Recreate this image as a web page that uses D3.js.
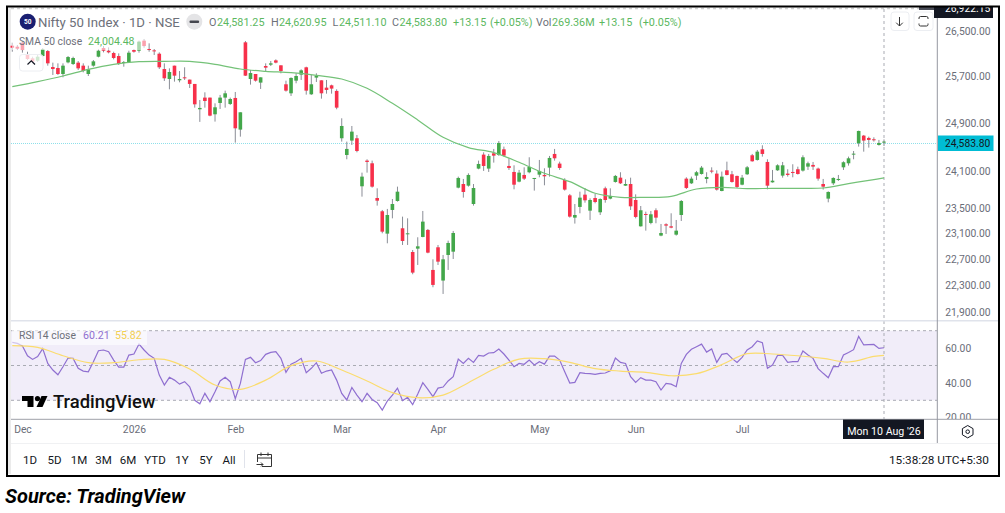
<!DOCTYPE html>
<html>
<head>
<meta charset="utf-8">
<script src="https://cdn.jsdelivr.net/npm/d3@7"></script>
<style>
html, body { margin: 0; padding: 0; background: #fff; }
svg { display: block; }
text { font-family: Roboto, sans-serif; }
.axis .domain { display: none; }
.axis text { font-family: Roboto, sans-serif; }
</style>
</head>
<body>
<svg id="chart" width="1005" height="513"></svg>
<script>
// candles, oldest first
var opens = [26237,26219,26291,26072,26013,25971,26054,26142,25860,25843,
  25738,25942,25913,25937,25884,25738,25884,26042,26195,26148,
  26107,26054,25937,25948,26160,26148,26327,26178,26154,26095,
  25825,25651,25884,25628,25680,25640,25565,25129,25329,25329,
  25044,25237,25329,25220,25323,24785,26297,25651,25738,25588,
  25878,25901,25977,25890,25559,25403,25622,25727,25855,25386,
  25675,25628,25501,25541,25444,24640,24362,24601,24640,23850,
  24269,24225,23661,23449,23096,23470,23613,23180,23091,22810,
  22862,23044,23154,22534,22883,22372,22764,22815,23828,23887,
  23860,23565,24138,24368,24138,24390,24362,24456,24181,24083,
  23925,24034,24078,23980,24039,24034,24154,24379,24220,23952,
  23704,23348,23518,23715,23459,23661,23433,23817,23651,23920,
  23990,23860,23887,23629,23211,23406,23264,23465,23065,23243,
  23211,23080,23390,23974,23898,24023,24050,23969,24105,24056,
  23774,24110,24045,24018,23876,24045,24357,24280,24456,24247,
  23914,24110,24023,24056,24083,24127,24105,24170,24198,24138,
  23887,23651,23898,23952,24159,24225,24368,24556,24684,24645,
  24623,24528,24581.25];
var closes = [26201,26184,26160,26001,25954,26042,26172,25925,25825,25738,
  25884,26036,26019,25837,25790,25820,25960,26148,26148,26119,
  26019,25913,25948,26113,26130,26309,26231,26160,26142,25855,
  25663,25773,25709,25651,25669,25565,25214,25152,25271,25021,
  25163,25329,25403,25305,24807,25078,25709,25755,25622,25680,
  25849,25925,25937,25790,25449,25669,25703,25802,25449,25559,
  25703,25403,25461,25484,25157,24846,24462,24751,24428,24007,
  24247,23844,23618,23127,23390,23565,23763,22981,23101,22493,
  22898,23285,22800,22306,22661,22697,22950,23106,23985,23758,
  24034,23822,24214,24181,24346,24351,24562,24351,24148,23876,
  24072,23974,24165,23985,24100,24012,24313,24307,24148,23796,
  23364,23390,23667,23624,23629,23597,23645,23629,23694,24018,
  23898,23887,23528,23359,23465,23390,23401,23348,23106,23222,
  23190,23143,23613,23823,23974,24078,24154,24001,24100,23796,
  24007,24034,23920,23839,23990,24159,24258,24417,24379,23860,
  23941,24192,24192,24034,24072,24050,24324,24225,24170,23974,
  23844,23758,23985,23969,24242,24307,24384,24762,24601,24612,
  24617,24562,24583.80];
var highs = [26291,26249,26309,26130,26042,26072,26190,26160,25937,25925,
  25925,26054,26042,25966,25925,25884,25983,26172,26231,26207,
  26130,26101,25966,26148,26178,26327,26357,26279,26178,26119,
  25925,25837,25884,25790,25855,25640,25565,25288,25420,25329,
  25231,25375,25449,25329,25426,25078,26321,25808,25738,25680,
  25925,25966,25995,25890,25622,25680,25750,25820,25866,25721,
  25750,25628,25634,25553,25472,24976,24584,24846,24695,24072,
  24291,24269,23817,23470,23486,23645,23844,23364,23337,22841,
  23039,23454,23169,22697,22919,22764,22986,23138,24007,23969,
  24061,23887,24269,24406,24379,24462,24595,24501,24307,24192,
  24116,24159,24324,23985,24280,24143,24346,24462,24252,23980,
  23726,23565,23763,23822,23656,23726,23656,23844,23817,24034,
  24078,23963,23990,23720,23533,23443,23454,23496,23248,23259,
  23417,23311,23629,23996,24007,24100,24181,24078,24159,24110,
  24089,24252,24100,24023,24034,24181,24379,24445,24523,24291,
  24116,24209,24247,24127,24209,24170,24357,24252,24247,24154,
  23969,23769,23996,24034,24258,24335,24428,24768,24695,24667,
  24656,24612,24620.95];
var lows = [26130,26160,26113,25983,25925,25948,26042,25884,25721,25721,
  25680,25925,25896,25808,25767,25703,25866,26030,26119,26101,
  25995,25896,25866,25937,26113,26113,26201,26130,26072,25825,
  25617,25472,25605,25593,25634,25495,25157,24915,25157,25010,
  24920,25135,25157,25203,24567,24667,25703,25553,25605,25478,
  25773,25878,25925,25750,25432,25357,25576,25634,25380,25375,
  25599,25311,25397,25397,25129,24584,24291,24528,24406,23683,
  24072,23828,23539,23101,22945,23337,23603,22919,22919,22468,
  22610,23039,22790,22271,22610,22170,22534,22702,23817,23667,
  23844,23539,24127,24100,24083,24236,24346,24335,24116,23801,
  23914,23952,24061,23780,23996,23866,24007,24269,24116,23780,
  23348,23254,23417,23586,23311,23576,23390,23586,23640,23909,
  23887,23855,23470,23337,23206,23143,23243,23259,23055,23091,
  23180,23065,23295,23806,23887,23952,24040,23898,24061,23780,
  23769,24028,23909,23822,23866,24034,24252,24269,24335,23801,
  23909,24100,23990,24007,23996,24040,24089,24116,24116,23941,
  23796,23592,23871,23936,24116,24187,24291,24501,24417,24484,
  24584,24517,24511.10];

// SMA and RSI MA were read at every fifth candle, plus the last one
var smoothIndex = [0,5,10,15,20,25,30,35,40,45,50,55,60,65,70,75,80,85,90,95,100,105,110,115,120,125,130,135,140,145,150,155,160,165,170,172];
var smaValues = [25518,25605,25703,25820,25908,25954,25960,25960,25908,25825,25785,25761,25715,25651,25489,25231,24948,24656,24484,24401,24242,24061,23925,23737,23672,23672,23688,23806,23833,23812,23817,23817,23822,23893,23958,23985];
var rsiMaValues = [61.4,60.4,55.6,51.6,51.6,53.3,53.5,48.0,38.8,36.3,41.6,49.9,52.6,47.4,41.1,34.4,31.5,33.0,40.1,47.8,53.7,53.9,51.8,48.2,46.8,46.1,44.1,45.3,50.5,56.8,56.6,55.6,54.1,52.0,55.2,55.82];

var rsiValues = [63.3,62.7,61.2,55.6,53.5,55.1,59.7,51.2,47.4,44.7,
  49.3,54.3,54.1,48.4,46.8,46.4,52.2,58.5,58.9,57.9,
  53.1,49.1,49.1,56.0,56.6,62.3,58.9,56.0,54.1,44.5,
  38.8,43.2,41.6,39.3,40.7,37.8,30.0,28.0,34.0,29.2,
  34.9,41.1,43.2,40.7,30.9,39.7,53.5,54.7,51.6,52.8,
  56.4,57.5,57.9,54.1,46.1,50.8,52.2,54.1,45.9,48.4,
  51.6,45.5,46.8,47.4,41.6,34.0,30.2,37.4,33.0,29.2,
  34.0,30.5,28.6,24.4,29.6,33.0,37.0,29.8,31.7,27.5,
  33.6,40.1,36.3,32.1,37.0,37.6,41.1,43.6,53.7,51.2,
  54.1,51.8,55.8,55.4,57.2,57.4,59.5,56.6,53.1,49.3,
  51.2,50.7,53.1,50.3,52.2,50.8,55.4,55.4,53.1,46.4,
  39.9,40.3,45.9,45.5,45.3,44.9,45.5,45.7,47.0,54.3,
  51.8,51.2,43.6,40.3,43.0,41.6,41.6,40.7,35.9,39.7,
  39.3,37.8,51.2,56.4,59.3,60.8,62.3,57.7,59.5,51.8,
  56.4,57.0,54.1,51.8,54.7,58.9,60.8,64.1,63.1,48.4,
  50.3,55.8,55.8,51.8,52.2,52.2,58.3,56.0,54.1,48.2,
  45.5,43.0,49.3,49.3,56.0,57.5,59.1,66.7,61.8,62.0,
  62.1,59.8,60.21];

var priceTicks = [26500,25700,24900,24100,23500,23100,22700,22300,21900];
var rsiTicks = [60,40,20];
var rsiLevels = [70,50,30];
var monthIndex = [2,24,44,65,84,104,123,144];
var monthLabels = ["Dec","2026","Feb","Mar","Apr","May","Jun","Jul"];
var rangeButtons = ["1D","5D","1M","3M","6M","YTD","1Y","5Y","All"];
var lastLevel = 24567; // where the dotted line sits in the picture

var GREEN = "#43a74a", RED = "#f7304a", WICK = "#8a8d96", AXIS = "#6a6d78";
var INK = "#131722", LEG = "#6d7079", UP = "#5cb85f";

var svg = d3.select("#chart");
var n = opens.length;

var x = d3.scaleLinear().domain([0, n - 1]).range([12.3, 884]);
var y = d3.scaleLog().domain([26500, 21900]).range([31, 312]);
var yRsi = d3.scaleLinear().domain([70, 30]).range([330.7, 400.3]);

svg.append("rect").attr("width", 1005).attr("height", 513).attr("fill", "#fff");

// left strip and top dashes
svg.append("rect").attr("x", 8).attr("y", 8).attr("width", 3).attr("height", 466).attr("fill", "#ebebeb");
svg.append("line").attr("x1", 11).attr("x2", 932).attr("y1", 8.5).attr("y2", 8.5)
  .attr("stroke", "#cfcfcf").attr("stroke-width", 1.5).attr("stroke-dasharray", "3,3");

// rsi pane
svg.append("rect").attr("x", 11).attr("width", 926)
  .attr("y", yRsi(70)).attr("height", yRsi(30) - yRsi(70)).attr("fill", "#f1edf9");
svg.selectAll("line.level").data(rsiLevels).enter().append("line").attr("class", "level")
  .attr("x1", 11).attr("x2", 937)
  .attr("y1", function(d){ return yRsi(d); }).attr("y2", function(d){ return yRsi(d); })
  .attr("stroke", "#a9abb3").attr("stroke-dasharray", "3,3");

// crosshair
svg.append("line").attr("x1", x(n - 1)).attr("x2", x(n - 1)).attr("y1", 9).attr("y2", 419)
  .attr("stroke", "#a9abb3").attr("stroke-dasharray", "3,3");

// last price line
svg.append("line").attr("x1", 11).attr("x2", 937)
  .attr("y1", Math.round(y(lastLevel)) + 0.5).attr("y2", Math.round(y(lastLevel)) + 0.5)
  .attr("stroke", "#8fe0ea").attr("stroke-dasharray", "1,1");

// candles
var idx = d3.range(n);
svg.selectAll("line.wick").data(idx).enter().append("line").attr("class", "wick")
  .attr("x1", function(i){ return x(i); }).attr("x2", function(i){ return x(i); })
  .attr("y1", function(i){ return y(highs[i]); }).attr("y2", function(i){ return y(lows[i]); })
  .attr("stroke", WICK).attr("stroke-width", 1);
svg.selectAll("rect.body").data(idx).enter().append("rect").attr("class", "body")
  .attr("x", function(i){ return x(i) - 1.8; })
  .attr("width", 3.6)
  .attr("y", function(i){ return y(Math.max(opens[i], closes[i])); })
  .attr("height", function(i){ return Math.max(1, Math.abs(y(opens[i]) - y(closes[i]))); })
  .attr("fill", function(i){ return closes[i] >= opens[i] ? GREEN : RED; });

// sma
var lineSma = d3.line().curve(d3.curveCatmullRom)
  .x(function(d){ return x(d); })
  .y(function(d, i){ return y(smaValues[i]); });
svg.append("path").attr("d", lineSma(smoothIndex)).attr("fill", "none")
  .attr("stroke", "#74c278").attr("stroke-width", 1.2);

// rsi lines
var lineRsi = d3.line().x(function(d, i){ return x(i); }).y(function(d){ return yRsi(d); });
svg.append("path").attr("d", lineRsi(rsiValues)).attr("fill", "none")
  .attr("stroke", "#8f6fd0").attr("stroke-width", 1.2);
var lineRsiMa = d3.line().curve(d3.curveCatmullRom)
  .x(function(d){ return x(d); })
  .y(function(d, i){ return yRsi(rsiMaValues[i]); });
svg.append("path").attr("d", lineRsiMa(smoothIndex)).attr("fill", "none")
  .attr("stroke", "#fbdc6e").attr("stroke-width", 1.2);

// pane separators
svg.append("rect").attr("x", 11).attr("y", 320).attr("width", 987).attr("height", 1.5).attr("fill", "#e0e3eb");
svg.append("rect").attr("x", 11).attr("y", 419).attr("width", 987).attr("height", 24).attr("fill", "#fff");
svg.append("line").attr("x1", 11).attr("x2", 998).attr("y1", 419.3).attr("y2", 419.3).attr("stroke", "#9ea0a8");
svg.append("rect").attr("x", 11).attr("y", 443).attr("width", 987).attr("height", 1).attr("fill", "#f0f1f3");

// right axes
svg.append("rect").attr("x", 938).attr("y", 9).attr("width", 60).attr("height", 311).attr("fill", "#fff");
svg.append("line").attr("x1", 937.3).attr("x2", 937.3).attr("y1", 8).attr("y2", 443).attr("stroke", "#9598a1");

// clip is in the axis group's own coordinates, 20.00 gets cut by the pane edge
var clip = svg.append("clipPath").attr("id", "rsiClip");
clip.append("rect").attr("x", 0).attr("y", 322).attr("width", 60).attr("height", 97);

var fmtPrice = d3.format(",.2f");
var axisPrice = d3.axisRight(y).tickValues(priceTicks).tickSize(0).tickPadding(8).tickFormat(fmtPrice);
svg.append("g").attr("class", "axis").attr("transform", "translate(937.3,0)").call(axisPrice)
  .selectAll("text").attr("fill", AXIS).attr("font-size", 10.3);

var axisRsi = d3.axisRight(yRsi).tickValues(rsiTicks).tickSize(0).tickPadding(8).tickFormat(d3.format(".2f"));
svg.append("g").attr("class", "axis").attr("clip-path", "url(#rsiClip)")
  .attr("transform", "translate(937.3,0)").call(axisRsi)
  .selectAll("text").attr("fill", AXIS).attr("font-size", 10.3);

// time axis
var axisTime = d3.axisBottom(x).tickValues(monthIndex).tickSize(0).tickPadding(0)
  .tickFormat(function(d){ return monthLabels[monthIndex.indexOf(d)]; });
svg.append("g").attr("class", "axis").attr("transform", "translate(0,426)").call(axisTime)
  .selectAll("text").attr("fill", AXIS).attr("font-size", 10.3);

// crosshair date and price tags
svg.append("rect").attr("x", 843).attr("y", 419.5).attr("width", 81).attr("height", 19.5).attr("fill", INK);
svg.append("text").attr("x", 884).attr("y", 431).attr("dy", ".35em").attr("text-anchor", "middle")
  .attr("fill", "#fff").attr("font-size", 10.6).text("Mon 10 Aug '26");

svg.append("rect").attr("x", 934).attr("y", 7).attr("width", 59).attr("height", 11).attr("fill", INK);
svg.append("rect").attr("x", 919).attr("y", 7).attr("width", 15).attr("height", 3).attr("fill", "#4a4d57");
svg.append("text").attr("x", 945).attr("y", 12).attr("fill", "#fff").attr("font-size", 10.3).text("26,922.15");
svg.append("rect").attr("x", 0).attr("y", 0).attr("width", 1005).attr("height", 6).attr("fill", "#fff");

svg.append("rect").attr("x", 938).attr("y", 135.5).attr("width", 55.5).attr("height", 15.5).attr("fill", "#00bcd4");
svg.append("text").attr("x", 945).attr("y", 143.2).attr("dy", ".35em").attr("fill", INK).attr("font-size", 10.3).text("24,583.80");

// legend backgrounds
svg.append("rect").attr("x", 12).attr("y", 34).attr("width", 134).attr("height", 16).attr("fill", "#fff").attr("opacity", 0.55);
svg.append("rect").attr("x", 12).attr("y", 328).attr("width", 135).attr("height", 17).attr("fill", "#fff").attr("opacity", 0.6);

// header
svg.append("circle").attr("cx", 27.7).attr("cy", 21.7).attr("r", 8).attr("fill", "#1a1f71");
svg.append("text").attr("x", 27.7).attr("y", 21.9).attr("dy", ".35em").attr("text-anchor", "middle")
  .attr("fill", "#fff").attr("font-size", 6.5).attr("font-weight", 700).text("50");
svg.append("text").attr("x", 38).attr("y", 22).attr("dy", ".35em").attr("fill", LEG).attr("font-size", 13.2)
  .text("Nifty 50 Index \u00b7 1D \u00b7 NSE");
svg.append("circle").attr("cx", 194.3).attr("cy", 21.7).attr("r", 8).attr("fill", "#e4e4e6");
svg.append("rect").attr("x", 189.5).attr("y", 20.4).attr("width", 9.6).attr("height", 2.6).attr("rx", 1).attr("fill", "#44464e");

var headerBits = [
  ["O", 209, LEG], ["24,581.25", 217, UP], ["H", 271, LEG], ["24,620.95", 279, UP],
  ["L", 332.5, LEG], ["24,511.10", 339, UP], ["C", 392, LEG], ["24,583.80", 399.5, UP],
  ["+13.15", 453, UP], ["(+0.05%)", 490, UP], ["Vol", 536, LEG], ["269.36M", 552, UP],
  ["+13.15", 599, UP], ["(+0.05%)", 639, UP]
];
svg.selectAll("text.hdr").data(headerBits).enter().append("text").attr("class", "hdr")
  .attr("x", function(d){ return d[1]; }).attr("y", 22).attr("dy", ".35em")
  .attr("fill", function(d){ return d[2]; }).attr("font-size", 10.8)
  .text(function(d){ return d[0]; });

// indicator legends
svg.append("text").attr("x", 19).attr("y", 41.7).attr("dy", ".35em").attr("fill", LEG).attr("font-size", 10.3).text("SMA 50 close");
svg.append("text").attr("x", 88).attr("y", 41.7).attr("dy", ".35em").attr("fill", UP).attr("font-size", 10.6).text("24,004.48");
svg.append("text").attr("x", 19).attr("y", 335).attr("dy", ".35em").attr("fill", LEG).attr("font-size", 10.4).text("RSI 14 close");
svg.append("text").attr("x", 83).attr("y", 335).attr("dy", ".35em").attr("fill", "#8f6fd0").attr("font-size", 10.6).text("60.21");
svg.append("text").attr("x", 115).attr("y", 335).attr("dy", ".35em").attr("fill", "#f3cf52").attr("font-size", 10.6).text("55.82");

// small buttons
function button(bx, by, w, h){
  svg.append("rect").attr("x", bx).attr("y", by).attr("width", w).attr("height", h).attr("rx", 3)
    .attr("fill", "#fff").attr("fill-opacity", 0.75).attr("stroke", "#eceef2");
}
button(19.5, 54.5, 23.5, 16.5);
svg.append("path").attr("d", "M27.5 64.5L31.3 60.8L35 64.5").attr("fill", "none").attr("stroke", INK).attr("stroke-width", 1.2);
button(891, 12, 18, 18.5);
svg.append("path").attr("d", "M899.5 17V26M896.2 22.7L899.5 26L902.8 22.7").attr("fill", "none").attr("stroke", "#333").attr("stroke-width", 1);
button(914, 12, 19, 18.5);
svg.append("path").attr("d", "M919 19V18A1.5 1.5 0 0 1 920.5 16.5H926.5A1.5 1.5 0 0 1 928 18V19M919 23.5V24.5A1.5 1.5 0 0 0 920.5 26H926.5A1.5 1.5 0 0 0 928 24.5V23.5")
  .attr("fill", "none").attr("stroke", "#333").attr("stroke-width", 1);

// logo
var logo = svg.append("g").attr("transform", "translate(22,395)");
logo.append("path").attr("d", "M0 1H11.5V12H5.5V6H0Z").attr("fill", "#000");
logo.append("circle").attr("cx", 15.5).attr("cy", 3.6).attr("r", 2.6).attr("fill", "#000");
logo.append("path").attr("d", "M19.5 1H25.5L20.5 12H14.5Z").attr("fill", "#000");
svg.append("text").attr("x", 53).attr("y", 407.5).attr("fill", "#111").attr("font-size", 18.4)
  .attr("font-weight", 500).attr("font-family", "Inter").text("TradingView");

// gear
svg.append("path").attr("d", "M967.7 425.5L973 428.6V434.8L967.7 437.9L962.4 434.8V428.6Z")
  .attr("fill", "none").attr("stroke", INK).attr("stroke-width", 1);
svg.append("circle").attr("cx", 967.7).attr("cy", 431.7).attr("r", 1.8).attr("fill", "none").attr("stroke", INK);

// bottom toolbar
var buttonX = d3.scalePoint().domain(rangeButtons.slice(0, 5)).range([30, 128]);
svg.selectAll("text.rng").data(rangeButtons).enter().append("text").attr("class", "rng")
  .attr("x", function(d, i){ return i < 5 ? buttonX(d) : [155, 182, 206, 229][i - 5]; })
  .attr("y", 459.5).attr("dy", ".35em").attr("text-anchor", "middle")
  .attr("fill", INK).attr("font-size", 11.5).text(function(d){ return d; });
svg.append("line").attr("x1", 244.5).attr("x2", 244.5).attr("y1", 450).attr("y2", 468).attr("stroke", "#e0e3eb");
svg.append("path").attr("d", "M257.5 462V454.5H271.5V466.5H262M257.5 458H271.5M261 452.5V456M268 452.5V456M256.5 464.5H263M261 462.5L263 464.5L261 466.5")
  .attr("fill", "none").attr("stroke", "#333").attr("stroke-width", 1);
svg.append("text").attr("x", 989).attr("y", 459.5).attr("dy", ".35em").attr("text-anchor", "end")
  .attr("fill", INK).attr("font-size", 11.8).text("15:38:28 UTC+5:30");

// frame
svg.append("rect").attr("x", 7).attr("y", 6.5).attr("width", 992).attr("height", 469.5).attr("fill", "none")
  .attr("stroke", "#000").attr("stroke-width", 2);

// source
svg.append("text").attr("x", 5).attr("y", 496).attr("dy", ".35em").attr("fill", "#000")
  .attr("font-size", 20).attr("font-weight", 700).attr("font-style", "italic")
  .attr("font-family", "Open Sans").text("Source: TradingView");
</script>
</body>
</html>
